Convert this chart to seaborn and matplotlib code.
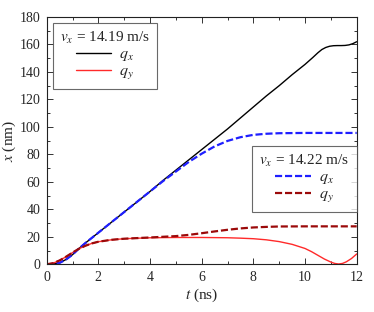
import numpy as np
import pandas as pd
import matplotlib
matplotlib.use("Agg")
import matplotlib.pyplot as plt
import seaborn as sns
from matplotlib.ticker import MultipleLocator

# v_x = 14.19 m/s run
t_a = [0, 0.25, 0.5, 0.75, 1, 1.25, 1.5, 2, 2.5, 3, 3.5, 4, 4.5, 5, 5.5, 6, 6.5, 7,
       7.5, 8, 8.5, 9, 9.5, 10, 10.3, 10.5, 10.65, 10.8, 10.95, 11.1, 11.25, 11.4,
       11.55, 11.7, 11.85, 12]
qx_a = [0, 0.2, 1, 3.5, 7, 11.5, 15.5, 23, 30.5, 38, 45.5, 53, 61, 68.5, 76, 83.5,
        91, 98.5, 106.5, 114.5, 122.5, 130, 138, 145.5, 150.5, 154, 156.3, 157.8,
        158.7, 159.1, 159.2, 159.2, 159.3, 159.7, 160.6, 162]
ty_a = [0, 0.25, 0.5, 0.75, 1, 1.25, 1.5, 1.75, 2, 2.5, 3, 4, 5, 6, 7, 7.5, 8, 8.5, 9,
        9.5, 10, 10.25, 10.5, 10.75, 11, 11.15, 11.3, 11.45, 11.6, 11.8, 12]
qy_a = [0, 0.8, 2.8, 5.5, 8.5, 11.3, 13.5, 15.2, 16.4, 17.8, 18.6, 19.3, 19.5, 19.5,
        19.3, 19.0, 18.6, 17.8, 16.5, 14.5, 11.5, 9.2, 6.5, 3.8, 1.6, 0.6, 0.2, 0.6,
        1.8, 4.2, 7.5]

# v_x = 14.22 m/s run
t_b = [0, 0.25, 0.5, 0.75, 1, 1.25, 1.5, 2, 2.5, 3, 3.5, 4, 4.5, 5, 5.5, 6, 6.5, 7,
       7.5, 8, 8.5, 9, 10, 11, 12]
qx_b = [0, 0.2, 1, 3.5, 7, 11.5, 15.5, 23, 30.5, 38, 45.5, 53, 60.5, 67.5, 74.5, 80.5,
        85.8, 89.8, 92.5, 94.2, 95.0, 95.4, 95.6, 95.6, 95.6]
ty_b = [0, 0.25, 0.5, 0.75, 1, 1.25, 1.5, 1.75, 2, 2.5, 3, 4, 5, 5.5, 6, 6.5, 7, 7.5,
        8, 8.5, 9, 10, 11, 12]
qy_b = [0, 0.8, 2.8, 5.5, 8.5, 11.3, 13.5, 15.2, 16.4, 17.8, 18.6, 19.5, 20.5, 21.4,
        22.6, 23.9, 25.1, 26.1, 26.8, 27.2, 27.5, 27.6, 27.6, 27.6]

sns.set_style("ticks")
plt.rcParams["font.family"] = ["Liberation Serif", "DejaVu Serif"]
plt.rcParams["mathtext.fontset"] = "stix"

fig = plt.figure(figsize=(3.74, 3.12), dpi=100)
ax = fig.add_axes([0.1249, 0.153, 0.8288, 0.7925])

series = [
    (t_a, qx_a, "black", "-", 1.0, r"$q_x$"),
    (ty_a, qy_a, "#ff2a2a", "-", 1.0, r"$q_y$"),
    (t_b, qx_b, "#1f1fff", "--", 1.6, r"$q_x$"),
    (ty_b, qy_b, "#9b0a0a", "--", 1.6, r"$q_y$"),
]
for t, q, c, ls, lw, lab in series:
    df = pd.DataFrame({"t": t, "q": q})
    sns.lineplot(data=df, x="t", y="q", color=c, linestyle=ls, linewidth=lw,
                 estimator=None, label=lab, ax=ax, legend=False)

lines = ax.get_lines()
for ln in lines[2:]:
    ln.set_dashes((3.2, 1.3))

ax.set_xlim(0, 12)
ax.set_ylim(0, 180)
ax.xaxis.set_major_locator(MultipleLocator(2))
ax.xaxis.set_minor_locator(MultipleLocator(1))
ax.yaxis.set_major_locator(MultipleLocator(20))
ax.yaxis.set_minor_locator(MultipleLocator(10))
ax.tick_params(which="both", direction="in", top=True, right=True, labelsize=10,
               color="#333333", width=0.7)
ax.tick_params(axis="x", which="both", pad=5)
ax.tick_params(axis="y", which="both", pad=4.5)
ax.tick_params(which="major", length=4)
ax.tick_params(which="minor", length=2)
for s in ax.spines.values():
    s.set_linewidth(0.8)
    s.set_color("#222222")

ax.set_xlabel(r"$t$ (ns)", fontsize=11, labelpad=2)
ax.set_ylabel(r"$x$ (nm)", fontsize=11, labelpad=1)

leg_kw = dict(frameon=True, fancybox=False, edgecolor="#444444", fontsize=11.5,
              title_fontsize=11, borderaxespad=0, handlelength=2.2,
              handletextpad=0.5, labelspacing=0.0, borderpad=0.45)
leg1 = ax.legend(lines[:2], [r"$q_x$", r"$q_y$"], title=r"$v_x$ = 14.19 m/s",
                 loc="upper left", bbox_to_anchor=(0.02, 0.976), **leg_kw)
leg1.get_frame().set_linewidth(0.8)
ax.add_artist(leg1)
leg2 = ax.legend(lines[2:], [r"$q_x$", r"$q_y$"], title=r"$v_x$ = 14.22 m/s",
                 loc="upper right", bbox_to_anchor=(1.0, 0.478), **leg_kw)
leg2.get_frame().set_linewidth(0.8)

fig.savefig("out.png", dpi=100)
